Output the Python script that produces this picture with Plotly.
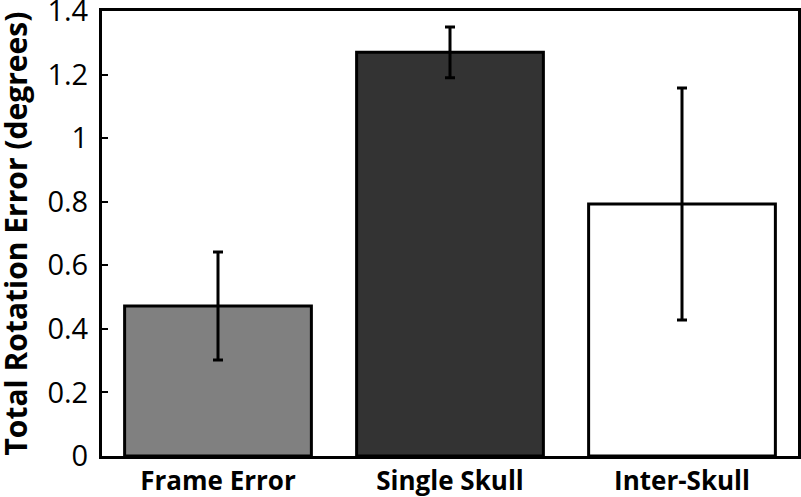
import plotly.graph_objects as go

categories = ["Frame Error", "Single Skull", "Inter-Skull"]
values = [0.472, 1.27, 0.793]
errors = [0.17, 0.08, 0.365]
colors = ["#808080", "#333333", "#ffffff"]
y_ticks = [0, 0.2, 0.4, 0.6, 0.8, 1.0, 1.2, 1.4]
y_ticklabels = ["0", "0.2", "0.4", "0.6", "0.8", "1", "1.2", "1.4"]
y_title = "Total Rotation Error (degrees)"

fig = go.Figure(go.Bar(
    x=categories, y=values,
    marker=dict(color=colors, line=dict(color="black", width=3)),
    error_y=dict(type="data", array=errors, visible=True, color="black", thickness=3, width=5),
    width=0.805,
))

fig.update_layout(
    width=801, height=497,
    margin=dict(l=102, r=3, t=11, b=41),
    paper_bgcolor="white", plot_bgcolor="white",
    showlegend=False,
    font=dict(family="Open Sans", color="black"),
)
fig.update_xaxes(
    automargin=False,
    showline=True, linecolor="black", linewidth=3, mirror=True,
    ticks="", tickfont=dict(size=26, family="Open Sans", weight="bold"),
    ticklabelstandoff=0,
)
fig.update_yaxes(
    automargin=False,
    range=[0, 1.4], tickvals=y_ticks, ticktext=y_ticklabels,
    showline=True, linecolor="black", linewidth=3, mirror=True,
    showgrid=False, zeroline=False,
    ticks="inside", ticklen=6, tickwidth=2, tickcolor="black",
    tickfont=dict(size=29, family="Open Sans"),
    ticklabelstandoff=5,
    ticklabeloverflow="allow",
)
fig.add_annotation(
    text=y_title, textangle=-90,
    xref="paper", yref="paper", x=0, y=0.5,
    xanchor="center", yanchor="middle", xshift=-87,
    showarrow=False,
    font=dict(size=30, family="Open Sans", weight="bold", color="black"),
)

fig.write_html("out.html", config={"displayModeBar": False},
               post_script="document.body.style.margin='0';")
